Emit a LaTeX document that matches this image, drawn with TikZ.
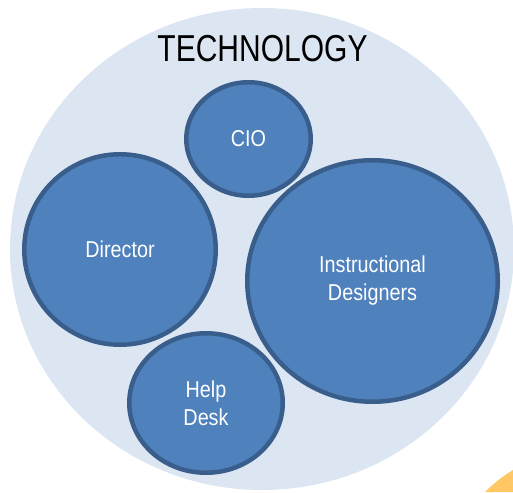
\documentclass[tikz,border=0pt]{standalone}
\usepackage{fontspec}
\usetikzlibrary{shapes.geometric}
\newfontfamily\titlefont[FakeStretch=0.8]{Liberation Sans}
\newfontfamily\labelfont[FakeStretch=0.86]{Liberation Sans}
\definecolor{techfill}{HTML}{DCE6F2}
\definecolor{rolefill}{HTML}{4F81BD}
\definecolor{roleline}{HTML}{3A5E8C}
\definecolor{cornerfill}{HTML}{FFC864}
\tikzset{
	role/.style={ellipse, draw=roleline, fill=rolefill, line width=4.5pt,
		inner sep=0pt, align=center, text=white,
		font=\labelfont\fontsize{23}{28}\selectfont}
}

\begin{document}
\begin{tikzpicture}[x=1pt,y=-1pt]
	\useasboundingbox (0,0) rectangle (513,492);
	\begin{scope}
		\clip (0,0) rectangle (513,492);
		\fill[cornerfill] (485,492) .. controls (494,483) and (503,476) .. (513,470) -- (513,492) -- cycle;
		\node[ellipse, fill=techfill, minimum width=504pt, minimum height=482pt, inner sep=0pt] (tech) at (262,249) {};
	\end{scope}
	
	\node[anchor=base, font=\titlefont\fontsize{37.5}{40}\selectfont] (title) at (262.5,62) {TECHNOLOGY};
	
	\node[role, minimum width=124.5pt, minimum height=113.5pt] (cio) at (248.5,139) {CIO};
	\node[role, minimum width=191.5pt, minimum height=190.5pt] (director) at (120,249.5) {Director};
	\node[role, minimum width=250.5pt, minimum height=241.5pt] (designers) at (372.5,281) {Instructional\\Designers};
	\node[role, minimum width=153.5pt, minimum height=139.5pt] (helpdesk) at (206,403) {Help\\Desk};
\end{tikzpicture}
\end{document}
